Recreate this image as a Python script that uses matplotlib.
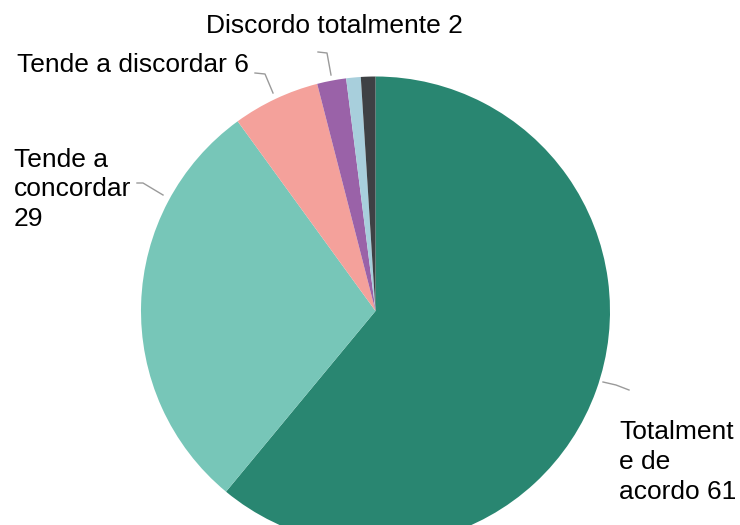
import matplotlib.pyplot as plt

plt.rcParams["font.family"] = ["Liberation Sans", "DejaVu Sans"]

labels = ["Totalment\ne de\nacordo 61", "Tende a\nconcordar\n29", "Tende a discordar 6",
          "Discordo totalmente 2", "", ""]
values = [61, 29, 6, 2, 1, 1]
colors = ["#298671", "#77c6b8", "#f4a19b", "#9a62a8", "#a8cfdc", "#3e4144"]

W, H = 740, 525
CX, CY, R = 375.5, 311, 234.5


def to_data(px, py):
    return (px - CX) / R, (CY - py) / R


fig = plt.figure(figsize=(W / 100, H / 100), dpi=100)
ax = fig.add_axes([(CX - R) / W, (H - CY - R) / H, 2 * R / W, 2 * R / H])
ax.pie(values, colors=colors, startangle=90, counterclock=False,
       wedgeprops={"linewidth": 0})
ax.set_xlim(-1, 1)
ax.set_ylim(-1, 1)
ax.axis("off")
for p in ax.patches:
    p.set_clip_on(False)

# leader lines (pixel positions of the reference layout)
leaders = [
    [(603, 382), (616, 385), (629, 390)],
    [(137, 183), (143, 183), (163, 195)],
    [(255, 73), (265, 74), (273, 93)],
    [(318, 52), (327, 53), (331, 75)],
]
for pts in leaders:
    xs, ys = zip(*[to_data(*p) for p in pts])
    ax.plot(xs, ys, color="#9a9a9a", lw=1, clip_on=False)

fs = 19
fig.text(619 / W, 1 - 420 / H, labels[0], ha="left", va="top", fontsize=fs, linespacing=1.32)
fig.text(14 / W, 1 - 148 / H, labels[1], ha="left", va="top", fontsize=fs, linespacing=1.28)
fig.text(17 / W, 1 - 65 / H, labels[2], ha="left", va="center", fontsize=fs)
fig.text(334.5 / W, 1 - 26 / H, labels[3], ha="center", va="center", fontsize=fs)

fig.savefig("out.png", dpi=100)
